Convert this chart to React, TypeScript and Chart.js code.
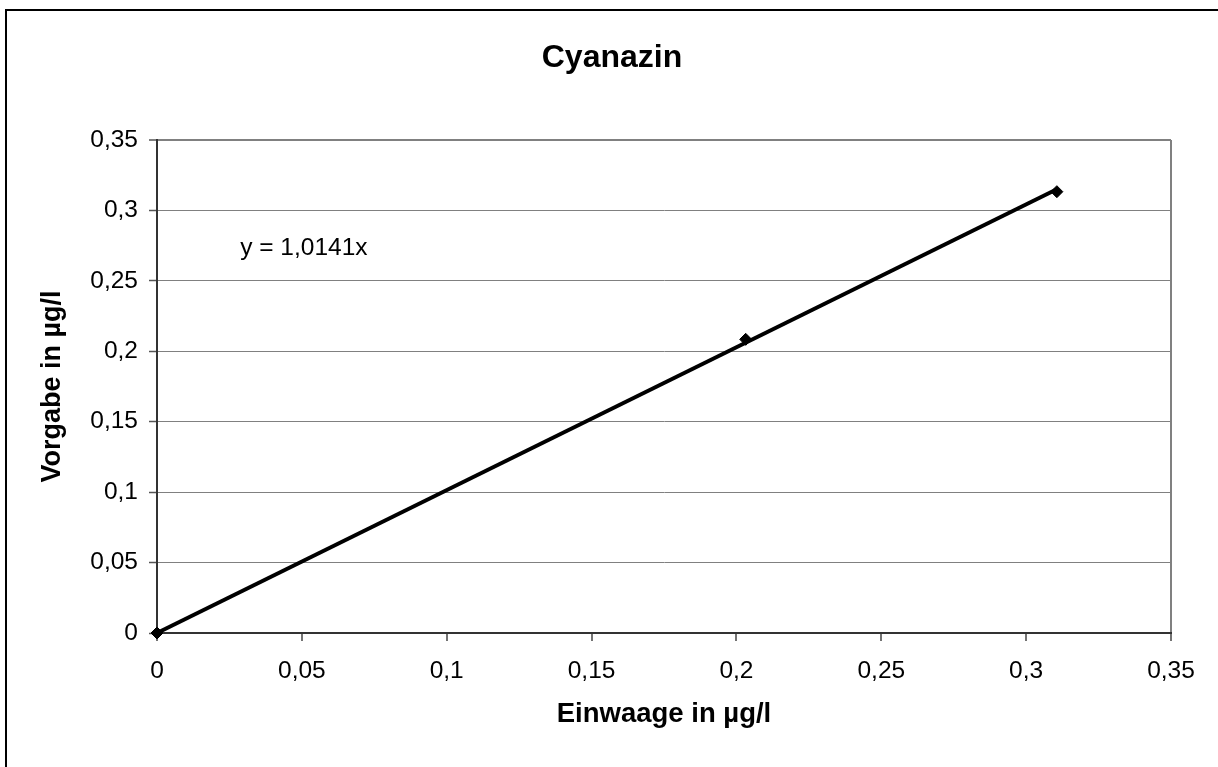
import React, { useEffect, useRef } from "react";
import { Chart, registerables } from "chart.js";

Chart.register(...registerables);

// ---- data ----
const chartTitle = "Cyanazin";
const xTitle = "Einwaage in µg/l";
const yTitle = "Vorgabe in µg/l";
const equationText = "y = 1,0141x";

const einwaage = [0, 0.2032, 0.3106];
const vorgabe = [0, 0.2085, 0.3133];

const trendX = [0, 0.3106];
const trendY = [0, 0.315];

const axisTickValues = [0, 0.05, 0.1, 0.15, 0.2, 0.25, 0.3, 0.35];
const axisTickLabels = ["0", "0,05", "0,1", "0,15", "0,2", "0,25", "0,3", "0,35"];

const FONT = "'Liberation Sans', Arial, Helvetica, sans-serif";

const decorPlugin = {
  id: "decor",
  beforeDraw(chart: any) {
    const { ctx, width, height } = chart;
    ctx.save();
    ctx.fillStyle = "#ffffff";
    ctx.fillRect(0, 0, width, height);
    ctx.strokeStyle = "#000000";
    ctx.lineWidth = 2;
    ctx.strokeRect(6, 10, width + 20, height + 20);
    ctx.restore();
  },
  afterDraw(chart: any) {
    const { ctx } = chart;
    const xs = chart.scales.x;
    const ys = chart.scales.y;
    ctx.save();
    ctx.fillStyle = "#000000";
    ctx.font = `bold 32px ${FONT}`;
    ctx.textAlign = "center";
    ctx.textBaseline = "alphabetic";
    ctx.fillText(chartTitle, 612, 67);

    ctx.font = `24.5px ${FONT}`;
    ctx.textAlign = "left";
    ctx.fillText(equationText, xs.getPixelForValue(0.0287), ys.getPixelForValue(0.2684));
    ctx.restore();
  },
};

export default function App() {
  const canvasRef = useRef<HTMLCanvasElement | null>(null);

  useEffect(() => {
    document.body.style.margin = "0";
    const canvas = canvasRef.current;
    if (!canvas) return;

    const chart = new Chart(canvas, {
      type: "scatter",
      data: {
        datasets: [
          {
            label: "Messwerte",
            data: einwaage.map((x, i) => ({ x, y: vorgabe[i] })),
            pointStyle: "rectRot",
            pointRadius: 6,
            pointBackgroundColor: "#000000",
            pointBorderColor: "#000000",
            pointBorderWidth: 1,
            showLine: false,
            clip: false,
            order: 0,
          },
          {
            label: "Trend",
            data: trendX.map((x, i) => ({ x, y: trendY[i] })),
            showLine: true,
            borderColor: "#000000",
            borderWidth: 4,
            pointRadius: 0,
            fill: false,
            clip: false,
            order: 1,
          },
        ],
      },
      options: {
        animation: false,
        responsive: false,
        maintainAspectRatio: false,
        devicePixelRatio: 1,
        layout: { padding: { top: 140, right: 47, bottom: 0, left: 0 } },
        plugins: {
          legend: { display: false },
          tooltip: { enabled: false },
          title: { display: false },
        },
        scales: {
          x: {
            type: "linear",
            min: 0,
            max: 0.35,
            afterFit: (s: any) => {
              s.height = 134;
            },
            afterBuildTicks: (s: any) => {
              s.ticks = axisTickValues.map((v) => ({ value: v }));
            },
            border: { display: true, color: "#333333", width: 2 },
            grid: {
              color: (c: any) =>
                c.index === axisTickValues.length - 1 ? "#808080" : "rgba(0,0,0,0)",
              lineWidth: 2,
              tickColor: "#444444",
              tickWidth: 1.5,
              tickLength: 8,
              drawTicks: true,
            },
            ticks: {
              autoSkip: false,
              maxRotation: 0,
              padding: 16,
              color: "#000000",
              font: { family: FONT, size: 24.5 },
              callback: (_v: any, i: number) => axisTickLabels[i],
            },
            title: {
              display: true,
              text: xTitle,
              color: "#000000",
              font: { family: FONT, size: 27.5, weight: "bold" },
              padding: { top: 0, bottom: 36 },
            },
          },
          y: {
            type: "linear",
            min: 0,
            max: 0.35,
            afterFit: (s: any) => {
              s.width = 157;
            },
            afterBuildTicks: (s: any) => {
              s.ticks = axisTickValues.map((v) => ({ value: v }));
            },
            border: { display: true, color: "#333333", width: 2 },
            grid: {
              color: (c: any) => (c.index === 0 ? "rgba(0,0,0,0)" : "#808080"),
              lineWidth: (c: any) => (c.index === axisTickValues.length - 1 ? 2 : 1),
              tickColor: "#555555",
              tickWidth: 1.5,
              tickLength: 8,
            },
            ticks: {
              autoSkip: false,
              padding: 11,
              color: "#000000",
              font: { family: FONT, size: 24.5 },
              callback: (_v: any, i: number) => axisTickLabels[i],
            },
            title: {
              display: true,
              text: yTitle,
              color: "#000000",
              font: { family: FONT, size: 27, weight: "bold" },
              padding: { top: 36, bottom: 0 },
            },
          },
        },
      },
      plugins: [decorPlugin],
    });

    return () => {
      chart.destroy();
    };
  }, []);

  return (
    <div style={{ position: "absolute", left: 0, top: 0, width: 1218, height: 767 }}>
      <canvas ref={canvasRef} width={1218} height={767} style={{ display: "block" }} />
    </div>
  );
}
